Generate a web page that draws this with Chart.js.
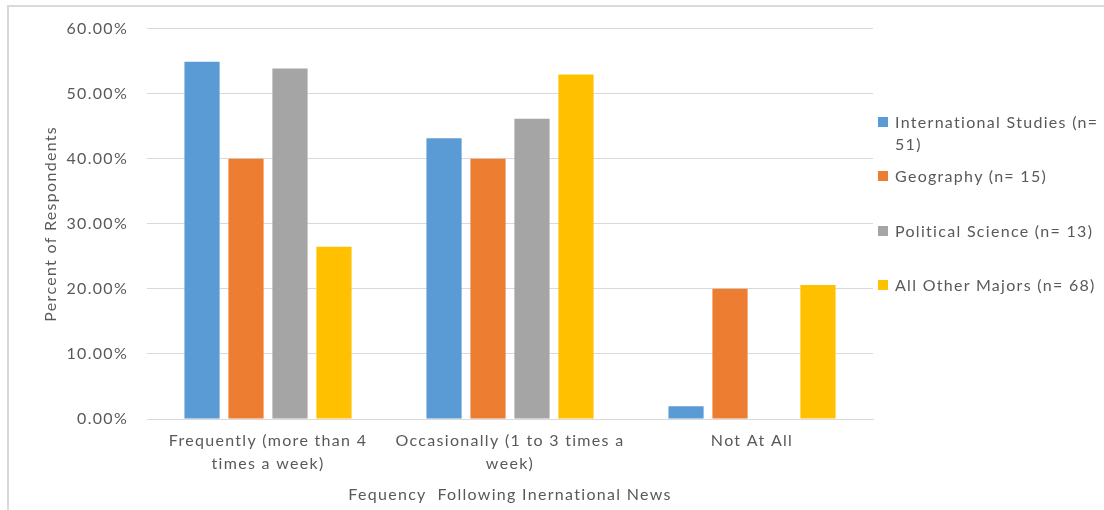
<!DOCTYPE html>
<html>
<head>
<meta charset="utf-8">
<script src="https://cdn.jsdelivr.net/npm/chart.js@4.4.1/dist/chart.umd.min.js"></script>
<style>
  html, body { margin: 0; padding: 0; background: #fff; }
  #wrap { position: relative; width: 1104px; height: 510px; overflow: hidden; }
  #frame { position: absolute; left: 7px; top: 5px; right: -4px; bottom: -4px;
           border-top: 2px solid #d9d9d9; border-left: 2px solid #d9d9d9; }
  #chart { position: absolute; left: 0; top: 0; }
  #legend { position: absolute; left: 0; top: 0; width: 1104px; height: 510px; pointer-events: none;
            font-family: Lato, "Open Sans", sans-serif; font-size: 16px; color: #595959;
            letter-spacing: 1.3px; }
  .item { position: absolute; left: 877px; width: 224px; line-height: 22px; }
  .box { position: absolute; left: 1px; top: 6px; width: 10px; height: 10px; }
  .txt { position: absolute; left: 18px; width: 206px; }
</style>
</head>
<body>
<div id="wrap">
  <div id="frame"></div>
  <canvas id="chart" width="1104" height="510"></canvas>
  <div id="legend"></div>
</div>
<script>
// Share of respondents by how often they follow international news, per major
const categories = [
  ["Frequently (more than 4", "times a week)"],
  ["Occasionally (1 to 3 times a", "week)"],
  "Not At All"
];
const seriesNames = [
  "International Studies (n= 51)",
  "Geography (n= 15)",
  "Political Science (n= 13)",
  "All Other Majors (n= 68)"
];
const internationalStudies = [54.90, 43.14, 1.96];
const geography = [40.00, 40.00, 20.00];
const politicalScience = [53.85, 46.15, 0.00];
const allOtherMajors = [26.47, 52.94, 20.59];
const yTicks = [0, 10, 20, 30, 40, 50, 60];

const colors = ["#5b9bd5", "#ed7d31", "#a5a5a5", "#ffc000"];
const seriesValues = [internationalStudies, geography, politicalScience, allOtherMajors];

const FONT = "Lato, 'Open Sans', sans-serif";
const GREY_TEXT = "#595959";

// Slightly spaced-out lettering for all canvas text
const letterSpacingPlugin = {
  id: "letterSpacing",
  beforeLayout(chart) { chart.ctx.letterSpacing = "1.3px"; },
  beforeDraw(chart) { chart.ctx.letterSpacing = "1.3px"; }
};

const chart = new Chart(document.getElementById("chart"), {
  type: "bar",
  data: {
    labels: categories,
    datasets: seriesNames.map((name, i) => ({
      label: name,
      data: seriesValues[i],
      backgroundColor: colors[i],
      borderWidth: 0,
      categoryPercentage: 0.727,
      barPercentage: 0.80
    }))
  },
  plugins: [letterSpacingPlugin],
  options: {
    responsive: false,
    animation: false,
    events: [],
    layout: { padding: { left: 41, right: 231, top: 20, bottom: 6 } },
    plugins: {
      legend: { display: false },
      tooltip: { enabled: false }
    },
    scales: {
      x: {
        grid: { display: false, drawTicks: false },
        border: { display: true, color: "#d9d9d9", width: 1 },
        ticks: {
          color: GREY_TEXT,
          font: { family: FONT, size: 16, lineHeight: 1.44 },
          padding: 10,
          maxRotation: 0,
          autoSkip: false
        },
        title: {
          display: true,
          text: "Fequency  Following Inernational News",
          color: GREY_TEXT,
          font: { family: FONT, size: 16 },
          padding: { top: 7, bottom: 0 }
        },
        afterFit: (s) => { s.height = 510 - 419 - 6; }
      },
      y: {
        min: 0,
        max: 60,
        afterBuildTicks: (s) => { s.ticks = yTicks.map(v => ({ value: v })); },
        grid: { color: "#d9d9d9", lineWidth: 1, drawTicks: false },
        border: { display: false },
        ticks: {
          color: GREY_TEXT,
          font: { family: FONT, size: 16 },
          padding: 19,
          callback: (v) => v.toFixed(2) + "%"
        },
        title: {
          display: true,
          text: "Percent of Respondents",
          color: GREY_TEXT,
          font: { family: FONT, size: 16 },
          padding: { top: 0, bottom: 0 }
        },
        afterFit: (s) => { s.width = 147 - 41; }
      }
    }
  }
});

// Legend built from the chart's own datasets
const legend = document.getElementById("legend");
chart.data.datasets.forEach((ds, i) => {
  const item = document.createElement("div");
  item.className = "item";
  item.style.top = (111 + i * 54.3) + "px";
  const box = document.createElement("div");
  box.className = "box";
  box.style.background = ds.backgroundColor;
  const txt = document.createElement("div");
  txt.className = "txt";
  txt.textContent = ds.label;
  item.appendChild(box);
  item.appendChild(txt);
  legend.appendChild(item);
});
</script>
</body>
</html>
